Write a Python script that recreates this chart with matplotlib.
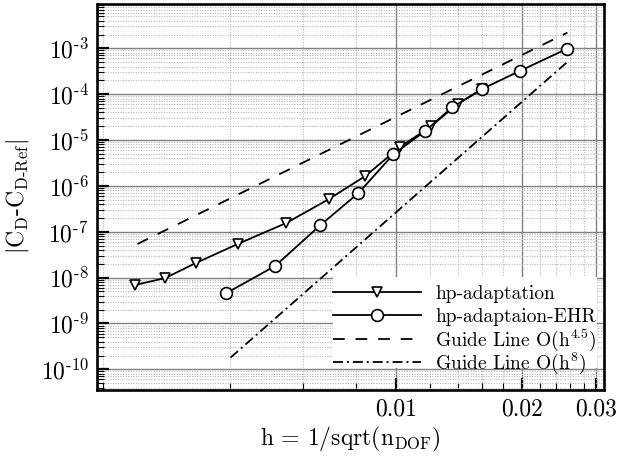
import numpy as np
import matplotlib
matplotlib.use("Agg")
import matplotlib.pyplot as plt
from matplotlib.ticker import FixedLocator, NullFormatter, LogLocator
from matplotlib.patches import Rectangle
from matplotlib.lines import Line2D
from matplotlib.legend import Legend

plt.rcParams['font.family'] = ['cmr10']
plt.rcParams['mathtext.fontset'] = 'cm'
plt.rcParams['axes.unicode_minus'] = False

# hp-adaptation (triangles)
h_hp = [0.00238, 0.00281, 0.00333, 0.00418, 0.00546, 0.00689, 0.00843,
        0.0102, 0.0121, 0.0140, 0.0160]
err_hp = [6.9e-9, 9.8e-9, 2.1e-8, 5.4e-8, 1.55e-7, 5.1e-7, 1.64e-6,
          7.0e-6, 2.0e-5, 6.1e-5, 1.27e-4]

# hp-adaptation with EHR (circles)
h_ehr = [0.00393, 0.00514, 0.00659, 0.00811, 0.00984, 0.0117, 0.0136,
         0.0160, 0.0197, 0.0255]
err_ehr = [4.6e-9, 1.8e-8, 1.4e-7, 6.9e-7, 4.9e-6, 1.55e-5, 5.2e-5,
           1.29e-4, 3.2e-4, 9.7e-4]

# guide lines (end points)
h_g45 = [0.00241, 0.0256]
err_g45 = [5.4e-8, 2.2e-3]
h_g8 = [0.00402, 0.0255]
err_g8 = [1.8e-10, 4.9e-4]

xticks_major = [0.01, 0.02, 0.03]
xtick_labels = ['0.01', '0.02', '0.03']
xticks_minor = [0.002, 0.004, 0.006, 0.008, 0.012, 0.014, 0.016, 0.018,
                0.022, 0.024, 0.026, 0.028]
ytick_exps = [-10, -9, -8, -7, -6, -5, -4, -3]

labels = ['hp-adaptation', 'hp-adaptaion-EHR',
          r'Guide Line O(h$^{4.5}$)', r'Guide Line O(h$^{8}$)']

fig = plt.figure(figsize=(6.33, 4.59), dpi=100)
ax = fig.add_axes([97/633, 1-390/459, 507/633, 386/459])
ax.set_xscale('log')
ax.set_yscale('log')
ax.set_xlim(0.00193, 0.0313)
ax.set_ylim(3.54e-11, 9.25e-3)

lw = 1.3
dash = (0, (6.5, 6))
dashdot = (0, (5.5, 2.2, 1.1, 2.2))
tri = dict(marker='v', ms=7, mfc='white', mec='black', mew=1.2)
circ = dict(marker='o', ms=8.5, mfc='white', mec='black', mew=1.2)

ax.plot(h_g45, err_g45, color='black', lw=lw, linestyle=dash, zorder=2)
ax.plot(h_g8, err_g8, color='black', lw=lw, linestyle=dashdot, zorder=2)
ax.plot(h_hp, err_hp, color='black', lw=lw, zorder=3, **tri)
ax.plot(h_ehr, err_ehr, color='black', lw=lw, zorder=4, **circ)

# ticks
ax.xaxis.set_major_locator(FixedLocator(xticks_major))
ax.xaxis.set_major_formatter(plt.FixedFormatter(xtick_labels))
ax.xaxis.set_minor_locator(FixedLocator(xticks_minor))
ax.xaxis.set_minor_formatter(NullFormatter())
ax.yaxis.set_major_locator(FixedLocator([10.0**e for e in ytick_exps]))
ax.yaxis.set_major_formatter(plt.FixedFormatter(
    [r'$10^{\text{-}%d}$' % (-e) for e in ytick_exps]))
ax.yaxis.set_minor_locator(LogLocator(base=10, subs=np.arange(2, 10), numticks=100))
ax.yaxis.set_minor_formatter(NullFormatter())

ax.tick_params(which='major', direction='in', length=8.5, width=1.6,
               labelsize=17, pad=6, top=False, right=False)
ax.tick_params(which='minor', direction='in', length=5, width=0.8,
               top=False, right=False)

# grid
ax.set_axisbelow(True)
ax.grid(which='major', color='#808080', lw=1.0, linestyle='-')
ax.grid(which='minor', color='#b8b8b8', lw=0.8, linestyle=(0, (1, 1.3)))

for s in ax.spines.values():
    s.set_linewidth(1.9)

ax.set_xlabel(r'h = 1/sqrt(n$_\mathrm{DOF}$)', fontsize=17, labelpad=3)
ax.set_ylabel(r'$|\mathrm{C_D}$-$\mathrm{C_{D\text{-}Ref}}|$', fontsize=17, labelpad=7)

# legend background
ax.add_patch(Rectangle((236/507, 22/386), 264/507, 91/386, transform=ax.transAxes,
                       facecolor='white', edgecolor='none', zorder=1.5))

handles = [
    Line2D([], [], color='black', lw=lw, **tri),
    Line2D([], [], color='black', lw=lw, **circ),
    Line2D([], [], color='black', lw=lw, linestyle=dash),
    Line2D([], [], color='black', lw=lw, linestyle=dashdot),
]
# one legend row per entry, evenly spaced
row_y = [96/386, 73/386, 50/386, 27/386]
for hnd, lab, yy in zip(handles, labels, row_y):
    leg = Legend(ax, [hnd], [lab], loc='center left', bbox_to_anchor=(236/507, yy),
                 frameon=False, fontsize=14, borderpad=0, borderaxespad=0,
                 handlelength=4.5, handletextpad=0.75)
    ax.add_artist(leg)

fig.savefig('out.png', dpi=100)
